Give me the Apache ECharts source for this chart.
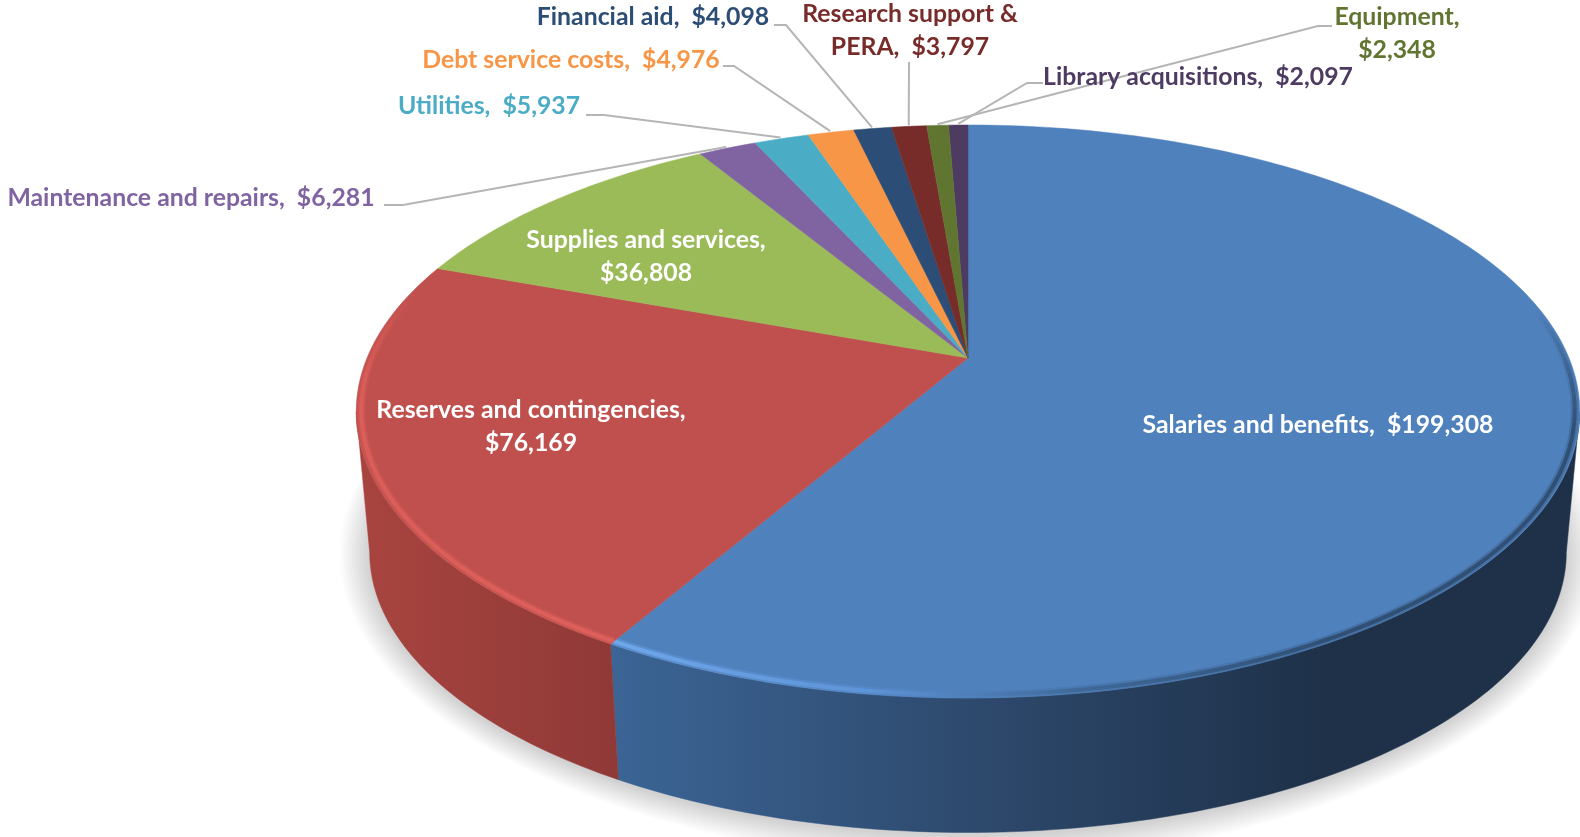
<!DOCTYPE html>
<html>
<head>
<meta charset="utf-8">
<title>Expenditures</title>
<style>
  html, body { margin: 0; padding: 0; background: #fff; }
  #main { width: 1580px; height: 837px; }
</style>
<script src="https://cdn.jsdelivr.net/npm/echarts@6/dist/echarts.min.js"></script>
</head>
<body>
<div id="main"></div>
<script>
  const categories = [
    'Salaries and benefits', 'Reserves and contingencies', 'Supplies and services',
    'Maintenance and repairs', 'Utilities', 'Debt service costs', 'Financial aid',
    'Research support &\nPERA', 'Library acquisitions', 'Equipment',
  ];
  const values = [199308, 76169, 36808, 6281, 5937, 4976, 4098, 3797, 2097, 2348];
  // slice order is clockwise from 12 o'clock; the two small ones at the end sit left of the top
  const order = [0, 1, 2, 3, 4, 5, 6, 7, 9, 8];
  const sliceColors = ['#4f81bd', '#c0504d', '#9bbb59', '#8064a2', '#4bacc6', '#f79646', '#2c4d75', '#772c2a', '#4d3b62', '#5f7530'];
  const labelColors = ['#fff', '#fff', '#fff', '#8064a2', '#4bacc6', '#f79646', '#2c4d75', '#772c2a', '#4d3b62', '#5f7530'];
  // name and amount on two lines
  const twoLines = [false, true, true, false, false, false, false, true, false, true];

  // label centre [x, y], then leader line start and knee (null = none)
  const labelPos = [[1318, 425], [531, 427], [646, 257], [191, 198], [489, 106], [571, 60], [653, 17], [910, 31], [1198, 77], [1397, 34]];
  const leaderFrom = [null, null, null, [384, 205], [586, 115], [723, 66], [774, 25], [909, 62], [1043, 83], [1332, 26]];
  const leaderKnee = [null, null, null, [403, 205], [604, 115], [734, 66], [786, 25], null, [1027, 83], [1318, 26]];

  // perspective disc: apex of the slices, half width, depth scale, tilt
  const CX = 968, CY = 358, A = 601, B = 276.5, K = 0.1867;
  const DROP = 142, BASE_SCALE = 0.978;

  const total = values.reduce((s, v) => s + v, 0);
  const startAngle = [], endAngle = [];
  let acc = 0;
  order.forEach((i) => {
    startAngle[i] = (acc / total) * Math.PI * 2;
    acc += values[i];
    endAngle[i] = (acc / total) * Math.PI * 2;
  });

  function topPoint(t, r) {
    const u = Math.sin(t) * r, v = -Math.cos(t) * r, w = 1 - K * v;
    return [CX + (A * u) / w, CY + (B * v) / w];
  }
  function basePoint(t) {
    const p = topPoint(t, 1);
    return [CX + BASE_SCALE * (p[0] - CX), CY + DROP + BASE_SCALE * (p[1] - CY)];
  }
  function arc(from, to, fn) {
    const pts = [], n = Math.max(2, Math.ceil(((to - from) * 180) / Math.PI));
    for (let j = 0; j <= n; j++) pts.push(fn(from + ((to - from) * j) / n));
    return pts;
  }
  const deg = (d) => (d * Math.PI) / 180;
  const hGrad = (x0, x1, stops) =>
    new echarts.graphic.LinearGradient(x0, 0, x1, 0, stops.map((c) => ({ offset: c[0], color: c[1] })), true);

  // the wall only shows between the two silhouette tangents of the disc
  const WALL_FROM = Math.PI - Math.acos(K), WALL_TO = Math.PI + Math.acos(K);

  const wallFill = {
    0: hGrad(613, 1320, [[0, '#3b6595'], [0.5, '#2e4a6e'], [1, '#1e3149']]),
    1: hGrad(360, 620, [[0, '#a8443f'], [1, '#8f3937']]),
  };
  const rimStroke = {
    0: hGrad(613, 1330, [[0, '#74adf2'], [0.35, '#6197dc'], [0.65, '#3d6593'], [1, '#2b4768']]),
    1: hGrad(360, 620, [[0, '#e0605b'], [1, '#e2625d']]),
  };
  // rim range in degrees, with a fade at the far end of each
  const rimRange = { 0: [deg(80), null, 'start'], 1: [null, deg(285), 'end'] };
  const RIM_FADE = 24;

  // soft shadow under the disc, stacked thin rings growing out of the base outline
  const SHADOW_CENTER = [CX, CY + DROP + 52];
  function renderShadow() {
    const children = [];
    const outline = arc(0, Math.PI * 2, basePoint);
    for (let d = 30; d > 0; d -= 2) {
      const pts = outline.map((p) => {
        const dx = p[0] - SHADOW_CENTER[0], dy = p[1] - SHADOW_CENTER[1], len = Math.hypot(dx, dy);
        return [p[0] + (dx / len) * d, p[1] + (dy / len) * d + 2];
      });
      children.push({ type: 'polygon', shape: { points: pts }, style: { fill: 'rgba(0,0,0,0.011)' } });
    }
    return { type: 'group', children: children };
  }

  function renderWall(params) {
    const i = params.dataIndex;
    const from = Math.max(startAngle[i], WALL_FROM), to = Math.min(endAngle[i], WALL_TO);
    if (to <= from) return null;
    const pts = arc(from, to, (t) => topPoint(t, 1)).concat(arc(from, to, basePoint).reverse());
    const fill = wallFill[i] || sliceColors[i];
    return { type: 'polygon', shape: { points: pts }, style: { fill: fill, stroke: fill, lineWidth: 0.5 } };
  }

  function rimPieces(points, stroke, alpha) {
    return [
      { type: 'polyline', shape: { points: points }, style: { fill: null, stroke: stroke, lineWidth: 8, opacity: 0.3 * alpha } },
      { type: 'polyline', shape: { points: points }, style: { fill: null, stroke: stroke, lineWidth: 4, opacity: 0.8 * alpha } },
    ];
  }

  function renderTop(params) {
    const i = params.dataIndex;
    const pts = [[CX, CY]].concat(arc(startAngle[i], endAngle[i], (t) => topPoint(t, 1)));
    let children = [
      { type: 'polygon', shape: { points: pts }, style: { fill: sliceColors[i], stroke: sliceColors[i], lineWidth: 0.5 } },
    ];
    if (rimRange[i]) {
      const from = rimRange[i][0] === null ? startAngle[i] : rimRange[i][0];
      const to = rimRange[i][1] === null ? endAngle[i] : rimRange[i][1];
      const rim = arc(from, to, (t) => topPoint(t, 0.992));
      const fadeAtStart = rimRange[i][2] === 'start';
      const solid = fadeAtStart ? rim.slice(RIM_FADE) : rim.slice(0, rim.length - RIM_FADE);
      children = children.concat(rimPieces(solid, rimStroke[i], 1));
      for (let j = 0; j < RIM_FADE; j++) {
        const seg = fadeAtStart ? rim.slice(j, j + 2) : rim.slice(rim.length - 2 - j, rim.length - j);
        children = children.concat(rimPieces(seg, rimStroke[i], (j + 1) / (RIM_FADE + 1)));
      }
    }
    return { type: 'group', children: children };
  }

  function renderLabel(params, api) {
    const i = params.dataIndex;
    const sep = twoLines[i] && categories[i].indexOf('\n') < 0 ? ',\n' : ',  ';
    const text = categories[i] + sep + '$' + api.value(0).toLocaleString('en-US');
    const children = [];
    if (leaderFrom[i]) {
      const mid = (startAngle[i] + endAngle[i]) / 2;
      const pts = [leaderFrom[i]];
      if (leaderKnee[i]) pts.push(leaderKnee[i]);
      pts.push(topPoint(mid, 1.006));
      children.push({ type: 'polyline', shape: { points: pts }, style: { fill: null, stroke: '#b5b5b5', lineWidth: 2 } });
    }
    children.push({
      type: 'text',
      z2: 10,
      style: {
        x: labelPos[i][0], y: labelPos[i][1], text: text,
        fill: labelColors[i], align: 'center', verticalAlign: 'middle',
        fontFamily: 'Lato', fontWeight: 'bold', fontSize: 24.8, lineHeight: 33,
      },
    });
    return { type: 'group', children: children };
  }

  const chart = echarts.init(document.getElementById('main'));
  const base = { type: 'custom', coordinateSystem: 'none', silent: true, animation: false };
  chart.setOption({
    backgroundColor: '#fff',
    animation: false,
    series: [
      Object.assign({}, base, { name: 'shadow', data: [total], renderItem: renderShadow, z: 1 }),
      Object.assign({}, base, { name: 'walls', data: values, renderItem: renderWall, z: 2 }),
      Object.assign({}, base, { name: 'tops', data: values, renderItem: renderTop, z: 3 }),
      Object.assign({}, base, { name: 'labels', data: values, renderItem: renderLabel, z: 4 }),
    ],
  });
</script>
</body>
</html>
